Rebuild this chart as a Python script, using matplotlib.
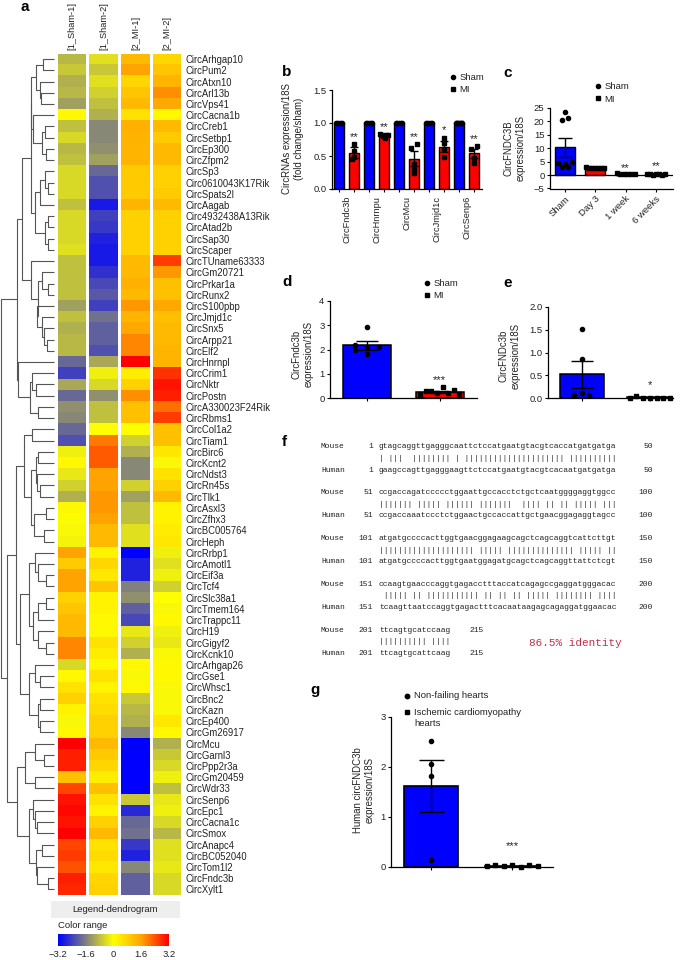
import matplotlib
matplotlib.use('Agg')
import matplotlib.pyplot as plt
from matplotlib.colors import LinearSegmentedColormap
from matplotlib.lines import Line2D
from matplotlib.transforms import Affine2D
import numpy as np

plt.rcParams['font.family'] = ['Liberation Sans', 'DejaVu Sans']

W, H = 685, 960

# panel a
genes = ["Arhgap10", "Pum2", "Atxn10", "Arl13b", "Vps41", "Cacna1b", "Creb1", "Setbp1", "Ep300", "Zfpm2",
         "Sp3", "0610043K17Rik", "Spats2l", "Aagab", "4932438A13Rik", "Atad2b", "Sap30", "Scaper", "TUname63333", "Gm20721",
         "Prkar1a", "Runx2", "S100pbp", "Jmjd1c", "Snx5", "Arpp21", "Elf2", "Hnrnpl", "Crim1", "Nktr",
         "Postn", "A330023F24Rik", "Rbms1", "Col1a2", "Tiam1", "Birc6", "Kcnt2", "Ndst3", "Rn45s", "Tlk1",
         "Asxl3", "Zfhx3", "BC005764", "Heph", "Rrbp1", "Amotl1", "Eif3a", "Tcf4", "Slc38a1", "Tmem164",
         "Trappc11", "H19", "Gigyf2", "Kcnk10", "Arhgap26", "Gse1", "Whsc1", "Bnc2", "Kazn", "Ep400",
         "Gm26917", "Mcu", "Garnl3", "Ppp2r3a", "Gm20459", "Wdr33", "Senp6", "Epc1", "Cacna1c", "Smox",
         "Anapc4", "BC052040", "Tom1l2", "Fndc3b", "Xylt1"]
samples = ["[1_Sham-1]", "[1_Sham-2]", "[2_MI-1]", "[2_MI-2]"]
sham1 = [-.9, -.7, -1, -.9, -1.2, .1, -.8, -.5, -.9, -.8, -.5, -.5, -.5, -.8, -.5, -.5, -.5, -.4, -.8, -.8,
         -.8, -.8, -1.2, -.8, -1, -.9, -.9, -1.9, -2.4, -1.1, -1.9, -1.4, -1.5, -1.9, -2.2, -.2, .1, -.3, -.6, -1,
         .1, -.05, -.1, -.15, 1.6, .9, 1.6, 1.6, .8, 1, 1.2, 1.2, 1.9, 1.9, -.5, .1, .5, .8, .2, -.1,
         .1, 3.2, 2.9, 2.9, 1.1, 2.5, 3, 3.1, 3, 3.2, 2.5, 2.6, 2.4, 2.9, 2.8]
sham2 = [-.4, -.7, -.4, -.6, -.8, -1, -1.5, -1.5, -1.4, -1.2, -1.9, -2.2, -2.2, -2.9, -2.4, -2.5, -2.8, -2.9, -2.9, -2.6,
         -2.3, -2.1, -2.4, -1.8, -2, -2, -2.2, -1.1, -.2, -.5, -1.4, -.8, -.8, 0, 2, 2.3, 2.3, 1.6, 1.6, 1.7,
         1.7, 1.6, 1.2, 1.2, .2, .7, .4, 1, .2, .2, .1, .1, .5, .3, .1, .5, .2, .5, .6, .8,
         .8, 1.2, .9, .7, .3, 1.1, .5, .2, .8, 1.2, .5, .6, .4, .7, .8]
mi1 = [1.2, 1.6, .7, 1, 1.2, .5, 1.4, 1.3, 1.3, 1.3, .9, .9, .9, 1.3, .8, .8, .8, .8, 1.2, 1.2,
       1.4, 1.2, 1.7, 1.3, 1.5, 1.9, 1.9, 3.2, .3, .8, 1.8, 1.1, 1.1, 0, -.6, -1, -1.5, -1.5, -.6, -1.2,
       -.8, -.8, -.4, -.4, -3.2, -2.8, -2.8, -1.6, -1.4, -2, -2.3, -.3, -.6, -1, .1, -.1, .1, -.7, -.9, -1,
       -1.5, -3.2, -3.2, -3.2, -3.2, -3.2, -.7, -2.7, -1.9, -1.8, -2.5, -2.8, -1.5, -2, -2]
mi2 = [.7, 1, 1.3, 1.8, 1.5, .1, 1.2, .9, 1.2, 1.2, .8, .8, .9, 1.2, .8, .8, .8, .8, 2.6, 1.7,
       1.1, 1.1, 1.5, 1.1, 1.2, 1.2, 1.3, 1.3, 2.7, 3, 2.9, 2.1, 2.6, 1.1, 1.1, .4, -.1, .5, .8, 1.2,
       .2, .2, .3, .4, -.2, -.4, -.2, -.6, 0, -.1, .1, -.2, -.3, -.1, .1, .1, -.1, -.1, -.1, .4,
       .1, -1, -.7, -.5, -.2, -.8, -.3, -.2, -.5, -.9, -.4, -.4, -.3, -.5, -.5]

# dendrogram as nested (merge position, upper child, lower child), leaves are row numbers
tree_top = (31, (36, (43, 0, 1), (40, 2, (41, 3, 4))), (33, 5, (42, (45, 6, 7), (46, 8, 9))))
tree_mid = (35, (40, (45, 10, (48, 11, 12)), 13), (45, (48, 14, 15), (48, 16, 17)))
tree_low = (31, 18, (38, (42, 19, (48, 20, 21)), (37, 22, (42, 23, (44, 24, (47, 25, 26))))))
tree_crim = (18, 27, (30, (32, 28, (36, 29, 30)), (38, 31, 32)))
tree_g = (24, (32, 33, 34), (31, (36, (38, 35, 36), (37, 37, (40, 38, 39))), (34, (46, 40, 41), (44, 42, 43))))
tree_h = (20, (29, (35, 44, (38, 45, (46, 46, 47))), (33, (38, (46, 48, 49), 50), (38, 51, (46, 52, 53)))),
          (29, (35, 54, (40, 55, 56)), (38, (40, 57, 58), (40, 59, 60))))
tree_i = (25, (35, 61, (44, 62, 63)), (35, 64, 65))
tree_j = (29, (33, 66, (35, 67, (37, 68, 69))), (36, (42, 70, 71), (37, 72, (48, 73, 74))))
tree = (1, (17, (22, (31, tree_top, tree_mid), tree_low), tree_crim),
        (7, (16, tree_g, tree_h), (17, tree_i, tree_j)))

colorbar_ticks = [-3.2, -1.6, 0, 1.6, 3.2]

# panel b
b_genes = ["CircFndc3b", "CircHnrnpu", "CircMcu", "CircJmjd1c", "CircSenp6"]
b_sham = [1.0, 1.0, 1.0, 1.0, 1.0]
b_sham_err = [0, 0, 0, 0, .03]
b_mi = [.55, .82, .46, .64, .54]
b_mi_err = [.08, .03, .11, .08, .07]
b_mi_pts = [[.68, .58, .45, .48], [.84, .8, .78, .82], [.62, .68, .38, .3, .25], [.78, .7, .48, .6], [.6, .65, .47, .4]]
b_stars = ["**", "**", "**", "*", "**"]

# panel c
c_labels = ["Sham", "Day 3", "1 week", "6 weeks"]
c_vals = [10.3, 2.7, .5, .3]
c_err = [3.6, .2, .1, .05]
c_high = [20.7, 23.4, 21.2]
c_low = [4.5, 3, 4, 3, 4.8]
c_pts = [c_high + c_low, [2.9, 2.8, 2.7, 2.6, 2.7, 2.5, 2.8], [.6, .5, .5, .4, .5, .4], [.3, .3, .2, .3, .3, .2, .3]]

# panel d
d_vals = [2.17, .24]
d_err = [.17, .03]
d_pts = [[2.92, 2.2, 2.1, 2.05, 2.0, 1.8], [.18, .3, .28, .22, .47, .2, .32, .18]]

# panel e
e_vals = [.52, .03]
e_err = [.29, .01]
e_pts = [[1.52, .85, .11, .06, .07], [0, .05, 0, 0, 0, .01, 0]]

# panel g
g_vals = [1.63, .03]
g_err = [.52, .01]
g_pts = [[2.52, 2.06, 1.83, .14], [.02, .05, .03, .05, 0, .04, .02]]

# panel f
mouse_seq = ["gtagcaggttgagggcaattctccatgaatgtacgtcaccatgatgatga",
             "ccgaccagatccccctggaattgccacctctgctcaatggggaggtggcc",
             "atgatgccccacttggtgaacggagaagcagctcagcaggtcattcttgt",
             "ccaagtgaacccaggtgagacctttaccatcagagccgaggatgggacac",
             "ttcagtgcatccaag"]
human_seq = ["gaagccagttgagggaagttctccatgaatgtacgtcacaatgatgatga",
             "ccgaccaaatccctctggaactgccaccattgctgaacggagaggtagcc",
             "atgatgccccacttggtgaatggagatgcagctcagcaggttattctcgt",
             "tcaagttaatccaggtgagactttcacaataagagcagaggatggaacac",
             "ttcagtgcattcaag"]
seq_start = [1, 51, 101, 151, 201]
seq_end = [50, 100, 150, 200, 215]

fig = plt.figure(figsize=(W / 100, H / 100), dpi=100)
px = Affine2D().scale(1 / W, -1 / H).translate(0, 1) + fig.transFigure


def box(x0, y0, x1, y1):
    return fig.add_axes([x0 / W, 1 - y1 / H, (x1 - x0) / W, (y1 - y0) / H])


def ptext(x, y, s, **kw):
    kw.setdefault('fontsize', 6.8)
    kw.setdefault('color', '#222222')
    kw.setdefault('va', 'center')
    return fig.text(x, y, s, transform=px, **kw)


def draw_tree(ax, node):
    # returns (merge x, row centre) of the node
    if not isinstance(node, tuple):
        return 54, node + .5
    pos, up, down = node
    x1, y1 = draw_tree(ax, up)
    x2, y2 = draw_tree(ax, down)
    ax.plot([x1, pos, pos, x2], [y1, y1, y2, y2], color='#555555', lw=.8, solid_capstyle='butt')
    return pos, (y1 + y2) / 2


def style(ax):
    for s in ['top', 'right']:
        ax.spines[s].set_visible(False)
    for s in ['left', 'bottom']:
        ax.spines[s].set_linewidth(.9)
    ax.tick_params(labelsize=6.8, length=2.5, width=.8, pad=1.5, labelcolor='#222222')


def dots(ax, x, ys, marker, spread=0, pattern=None, ms=3):
    # pattern: side of each point relative to the bar centre, even spread if none is given
    n = len(ys)
    offs = np.linspace(-1, 1, n) if pattern is None else np.array(pattern)
    ax.plot(x + spread * offs, ys, ls='', marker=marker, color='black', ms=ms, zorder=4, clip_on=False)


def err(ax, x, val, e, capsize=3):
    ax.errorbar([x], [val], yerr=[e], color='black', lw=1, capsize=capsize, capthick=1, zorder=3)


def legend(ax, x, y, labels, gap=0.9):
    hs = [Line2D([], [], ls='', marker=m, color='black', ms=3) for m in ['o', 's']]
    ax.legend(hs, labels, loc='upper left', bbox_to_anchor=(x, y), bbox_transform=px, frameon=False,
              fontsize=6.8, handletextpad=.1, labelspacing=gap, borderpad=0, borderaxespad=0, handlelength=1.2,
              labelcolor='#222222')


# a: heatmap
cmap = LinearSegmentedColormap.from_list('blue_red', ['#0000ff', '#808080', '#ffff00', '#ffa500', '#ff0000'])
heat_x = [(58, 86), (89, 118), (121, 150), (153, 181)]
top, bottom = 53.5, 895
for i, vals in enumerate([sham1, sham2, mi1, mi2]):
    ax = box(heat_x[i][0], top, heat_x[i][1], bottom)
    ax.imshow(np.array(vals).reshape(-1, 1), cmap=cmap, vmin=-3.2, vmax=3.2, aspect='auto',
              interpolation='nearest', extent=[0, 1, 75, 0])
    ax.set_xticks([])
    for s in ax.spines.values():
        s.set_visible(False)
    if i == 3:
        ax.yaxis.tick_right()
        ax.set_yticks(np.arange(75) + .5)
        ax.set_yticklabels(["Circ" + g for g in genes], fontsize=6.85, color='#222222')
        ax.tick_params(axis='y', length=0, pad=3.5)
    else:
        ax.set_yticks([])
    ptext(sum(heat_x[i]) / 2, 50, samples[i], rotation=90, ha='center', va='bottom', fontsize=6.7)

ax = box(0, top, 57, bottom)
ax.set_xlim(0, 57)
ax.set_ylim(75, 0)
ax.axis('off')
draw_tree(ax, tree)

ax = box(51, 901, 180, 918)
ax.set_facecolor('#eeeeee')
ax.set_xticks([])
ax.set_yticks([])
for s in ax.spines.values():
    s.set_visible(False)
ptext(115, 909.5, "Legend-dendrogram", ha='center', fontsize=6.8)
ptext(58, 926, "Color range", fontsize=6.8)

ax = box(58, 934, 169, 946)
ax.imshow(np.linspace(-3.2, 3.2, 256).reshape(1, -1), cmap=cmap, aspect='auto', extent=[-3.2, 3.2, 0, 1])
ax.set_yticks([])
ax.set_xticks(colorbar_ticks)
ax.set_xticklabels(['\u22123.2', '\u22121.6', '0', '1.6', '3.2'], fontsize=6.8, color='#222222')
ax.tick_params(axis='x', length=0, pad=3)
for s in ax.spines.values():
    s.set_visible(False)

# b
ax = box(332, 90, 482, 189)
style(ax)
b_patterns = [[0, 0, -.5, 0], None, [-.8, .8, 0, 0, 0], [0, 0, 0, 0], [-.8, .8, 0, 0]]
for i in range(5):
    xa, xb = 2 * i, 2 * i + 1
    ax.bar(xa, b_sham[i], width=.62, color='#0000ff', edgecolor='black', lw=1, zorder=2)
    ax.bar(xb, b_mi[i], width=.62, color='#ff0000', edgecolor='black', lw=1, zorder=2)
    dots(ax, xa, [1] * 5, 'o', .22)
    dots(ax, xb, b_mi_pts[i], 's', .25, b_patterns[i])
    err(ax, xa, b_sham[i], b_sham_err[i])
    err(ax, xb, b_mi[i], b_mi_err[i])
    ax.text(xb, max(b_mi_pts[i]) + .03, b_stars[i], ha='center', va='bottom', fontsize=8, color='#222222')
ax.set_xlim(-.47, 9.53)
ax.set_ylim(0, 1.5)
ax.set_yticks([0, .5, 1, 1.5])
ax.set_yticklabels(['0.0', '0.5', '1.0', '1.5'])
ax.set_xticks(range(10))
ax.set_xticklabels([])
ax.set_xticks([.5, 2.5, 4.5, 6.5, 8.5], minor=True)
ax.set_xticklabels(b_genes, minor=True, rotation=90, fontsize=6.7, color='#222222')
ax.tick_params(axis='x', which='minor', length=0, pad=5)
ptext(293.5, 139, "CircRNAs expression/18S\n(fold change/sham)", rotation=90, ha='center', linespacing=1.25, fontsize=6.9)
legend(ax, 447, 73, ["Sham", "MI"], gap=.35)

# c
ax = box(550, 108, 673, 188.5)
style(ax)
for i, lab in enumerate(c_labels):
    ax.bar(i, c_vals[i], width=.66, color='#ff0000' if i else '#0000ff', edgecolor='black', lw=1, zorder=2)
    if i == 0:
        dots(ax, i, c_high, 'o', .11)
        dots(ax, i, c_low, 'o', .22)
    else:
        dots(ax, i, c_pts[i], 's', .3)
    err(ax, i, c_vals[i], c_err[i], capsize=5 if i == 0 else 2)
ax.axhline(0, color='black', lw=.9, zorder=3)
ax.text(2, .6, "**", ha='center', va='bottom', fontsize=8, color='#222222')
ax.text(3, 1.4, "**", ha='center', va='bottom', fontsize=8, color='#222222')
ax.set_xlim(-.49, 3.56)
ax.set_ylim(-5, 25)
ax.set_yticks([-5, 0, 5, 10, 15, 20, 25])
ax.set_yticklabels(['\u22125', '0', '5', '10', '15', '20', '25'])
ax.set_xticks(range(4))
ax.set_xticklabels(c_labels, rotation=45, ha='right', rotation_mode='anchor', fontsize=6.8)
ptext(515, 148, "CircFNDC3B\nexpression/18S", rotation=90, ha='center', linespacing=1.25, fontsize=6.9)
legend(ax, 592, 82, ["Sham", "MI"], gap=.4)

# d
ax = box(330, 301, 477, 398)
style(ax)
ax.bar([0, 1], d_vals, width=.66, color=['#0000ff', '#ff0000'], edgecolor='black', lw=1.1, zorder=2)
dots(ax, 0, d_pts[0], 'o', .16, [0, -1, 1, 0, -1, 0])
dots(ax, 1, d_pts[1], 's', .27)
err(ax, 0, d_vals[0], d_err[0], capsize=8)
err(ax, 1, d_vals[1], d_err[1], capsize=6)
ax.text(1, .52, "***", ha='center', va='bottom', fontsize=8, color='#222222')
ax.set_xlim(-.505, 1.51)
ax.set_ylim(0, 4)
ax.set_yticks(range(5))
ax.set_xticks([0, 1])
ax.set_xticklabels([])
ptext(303, 354, "CircFndc3b\nexpression/18S", rotation=90, ha='center', linespacing=1.25, fontsize=6.9)
legend(ax, 421, 279, ["Sham", "MI"], gap=.3)

# e
ax = box(548, 307, 673, 398)
style(ax)
ax.bar([0, 1], e_vals, width=.66, color=['#0000ff', '#ff0000'], edgecolor='black', lw=1.1, zorder=2)
dots(ax, 0, e_pts[0], 'o', .11, [0, 0, 0, -1, 1])
dots(ax, 1, e_pts[1], 's', .3)
err(ax, 0, e_vals[0], e_err[0], capsize=8)
ax.text(1, .18, "*", ha='center', va='bottom', fontsize=8, color='#222222')
ax.set_xlim(-.5, 1.34)
ax.set_ylim(0, 2)
ax.set_yticks([0, .5, 1, 1.5, 2])
ax.set_yticklabels(['0.0', '0.5', '1.0', '1.5', '2.0'])
ax.set_xticks([0, 1])
ax.set_xticklabels([])
ptext(509.5, 356, "CircFNDc3b\nexpression/18S", rotation=90, ha='center', linespacing=1.25, fontsize=6.9)

# f
mono = dict(family=['Liberation Mono', 'DejaVu Sans Mono'], fontsize=5.76, color='#222222')
for i in range(5):
    y0 = 447 + 45.8 * i
    ptext(321, y0, "Mouse", **mono)
    ptext(321, y0 + 23, "Human", **mono)
    ptext(373, y0, str(seq_start[i]), ha='right', **mono)
    ptext(373, y0 + 23, str(seq_start[i]), ha='right', **mono)
    ptext(379, y0, mouse_seq[i], **mono)
    ptext(379, y0 + 23, human_seq[i], **mono)
    match = ''.join('|' if a == b else ' ' for a, b in zip(mouse_seq[i], human_seq[i]))
    ptext(379, y0 + 11.5, match, **mono)
    end_x = 653 if i < 4 else 484
    ptext(end_x, y0, str(seq_end[i]), ha='right', **mono)
    ptext(end_x, y0 + 23, str(seq_end[i]), ha='right', **mono)
ptext(529, 643, "86.5% identity", family=['Liberation Mono', 'DejaVu Sans Mono'], fontsize=7.9, color='#c0304a')

# g
ax = box(391, 717, 553, 867)
style(ax)
ax.bar([0, 1], g_vals, width=.66, color=['#0000ff', '#ff0000'], edgecolor='black', lw=1.2, zorder=2)
dots(ax, 0, g_pts[0], 'o', 0)
dots(ax, 1, g_pts[1], 's', .31)
err(ax, 0, g_vals[0], g_err[0], capsize=9)
ax.text(1, .32, "***", ha='center', va='bottom', fontsize=8, color='#222222')
ax.set_xlim(-.49, 1.5)
ax.set_ylim(0, 3)
ax.set_yticks(range(4))
ax.set_xticks([0, 1])
ax.set_xticklabels([])
ptext(364, 790, "Human circFNDC3b\nexpression/18S", rotation=90, ha='center', linespacing=1.25, fontsize=6.9)
ax.plot([407], [696], ls='', marker='o', color='black', ms=3.2, transform=px, clip_on=False)
ax.plot([407], [712], ls='', marker='s', color='black', ms=3.2, transform=px, clip_on=False)
ptext(414, 696, "Non-failing hearts")
ptext(414, 718, "Ischemic cardiomyopathy\nhearts", linespacing=1.25)

# panel letters
for lab, x, y in [('a', 21, 7), ('b', 282, 72), ('c', 503, 73), ('d', 282, 282), ('e', 503, 283), ('f', 282, 442), ('g', 310, 690)]:
    ptext(x, y, lab, fontsize=11, fontweight='bold', color='black', ha='left')

fig.savefig('out.png', dpi=100)
